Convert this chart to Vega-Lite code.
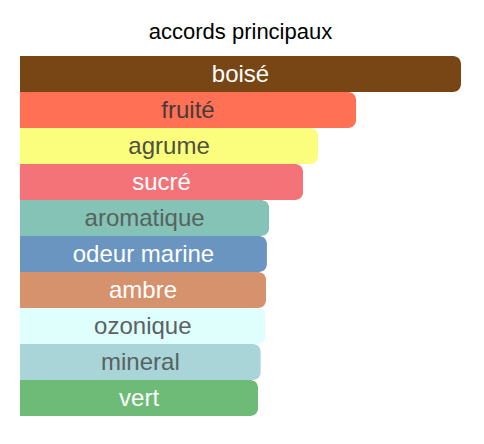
{
  "$schema": "https://vega.github.io/schema/vega-lite/v6.json",
  "width": 441,
  "height": 360,
  "autosize": {"type": "none"},
  "padding": {"left": 20, "top": 56, "right": 23, "bottom": 28},
  "background": "#ffffff",
  "title": {
    "text": "accords principaux",
    "anchor": "middle",
    "font": "Liberation Sans",
    "fontSize": 22,
    "fontWeight": "normal",
    "color": "#000000",
    "baseline": "alphabetic",
    "offset": -5
  },
  "data": {
    "values": [
      {"accord": "boisé", "valeur": 100},
      {"accord": "fruité", "valeur": 76.2},
      {"accord": "agrume", "valeur": 67.6},
      {"accord": "sucré", "valeur": 64.2},
      {"accord": "aromatique", "valeur": 56.5},
      {"accord": "odeur marine", "valeur": 56},
      {"accord": "ambre", "valeur": 55.8},
      {"accord": "ozonique", "valeur": 55.7},
      {"accord": "mineral", "valeur": 54.6},
      {"accord": "vert", "valeur": 54}
    ]
  },
  "encoding": {
    "y": {
      "field": "accord",
      "type": "nominal",
      "sort": null,
      "axis": null,
      "scale": {"paddingInner": 0, "paddingOuter": 0}
    }
  },
  "layer": [
    {
      "mark": {"type": "bar", "cornerRadiusEnd": 8},
      "encoding": {
        "x": {
          "field": "valeur",
          "type": "quantitative",
          "axis": null,
          "scale": {"domain": [0, 100], "nice": false}
        },
        "color": {
          "field": "accord",
          "type": "nominal",
          "legend": null,
          "scale": {
            "domain": ["boisé", "fruité", "agrume", "sucré", "aromatique", "odeur marine", "ambre", "ozonique", "mineral", "vert"],
            "range": ["#784515", "#ff7055", "#fbfd7c", "#f47378", "#84c3b5", "#6a95c1", "#d6916d", "#dffffd", "#a9d5d8", "#6dbb76"]
          }
        }
      }
    },
    {
      "mark": {"type": "text", "font": "Liberation Sans", "fontSize": 24, "baseline": "alphabetic", "dy": 7.5},
      "encoding": {
        "x": {
          "field": "valeur",
          "type": "quantitative",
          "axis": null,
          "scale": {"domain": [0, 200], "nice": false}
        },
        "text": {"field": "accord", "type": "nominal"},
        "color": {
          "field": "accord",
          "type": "nominal",
          "legend": null,
          "scale": {
            "domain": ["boisé", "fruité", "agrume", "sucré", "aromatique", "odeur marine", "ambre", "ozonique", "mineral", "vert"],
            "range": ["#ffffff", "#473c38", "#50513f", "#ffffff", "#566360", "#ffffff", "#ffffff", "#5c6262", "#566264", "#ffffff"]
          }
        }
      }
    }
  ],
  "resolve": {"scale": {"color": "independent", "x": "independent"}},
  "config": {"view": {"stroke": null}}
}
